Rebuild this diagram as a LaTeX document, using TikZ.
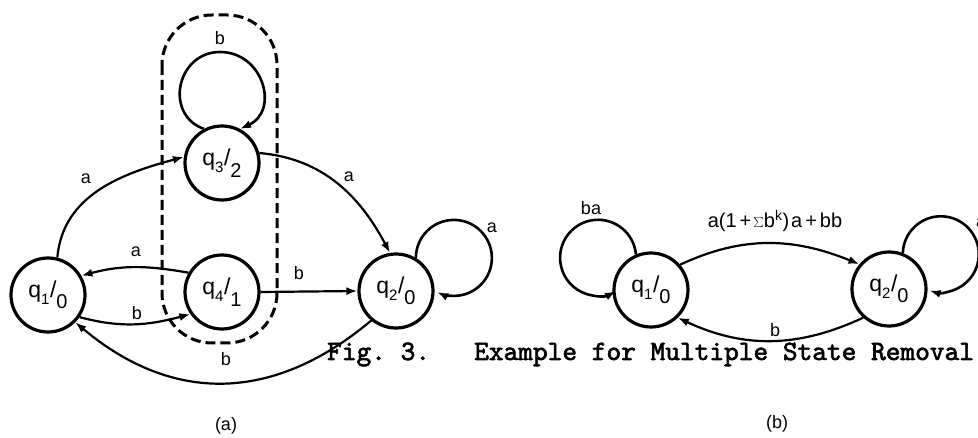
\documentclass[tikz,border=0pt]{standalone}
\usepackage{fontspec}
\setmainfont{Liberation Sans}
\newfontfamily\capfont{lmmono10-regular.otf}[FakeBold=2.2]
\usetikzlibrary{arrows.meta}
\newcommand{\qlab}[2]{q\raisebox{-0.3em}{\fontsize{15pt}{15pt}\selectfont #1}\kern0.5pt/\raisebox{-0.5em}{\fontsize{20pt}{20pt}\selectfont #2}}
\begin{document}
\begin{tikzpicture}[x=1pt,y=1pt,
  state/.style={draw, circle, line width=3.2pt, minimum size=74pt, inner sep=0pt, font=\fontsize{23pt}{23pt}\selectfont},
  edge/.style={line width=2.2pt, -{Latex[length=11pt,width=8pt]}},
  loopedge/.style={line width=2.6pt, -{Latex[length=11pt,width=8pt]}},
  lbl/.style={font=\fontsize{18pt}{18pt}\selectfont, inner sep=0pt},
  grpbox/.style={draw, dashed, dash pattern=on 10pt off 5pt, line width=3pt, rounded corners=50pt},
  capt/.style={font=\capfont\fontsize{28pt}{28pt}\selectfont\frenchspacing, inner sep=0pt, anchor=base west}]
\useasboundingbox (0,0) rectangle (978,-438);
% part (a)
\node[state] (q1) at (48,-295) {\qlab{1}{0}};
\node[state] (q3) at (222,-163) {\qlab{3}{2}};
\node[state] (q4) at (222,-292) {\qlab{4}{1}};
\node[state] (q2) at (396,-291) {\qlab{2}{0}};
\coordinate (t3) at (220,-52);
\draw[grpbox] (162,-15) rectangle (277,-343);
\draw[edge] (q1.76) to[out=85,in=195] (q3.171);
\draw[edge] (q3.15) to[out=-5,in=118] (q2.99);
\draw[edge] (q4.150) to[out=170,in=15] (q1.30);
\draw[edge] (q1.-35) to[out=-15,in=195] (q4.215);
\draw[edge] (q4.east) -- (q2.west);
\draw[edge] (q2.230) to[out=220,in=-40,looseness=1.1] (q1.-45);
\draw[loopedge] (q3.118) to[out=160,in=180,looseness=1.4] (t3) to[out=0,in=25,looseness=1.4] (q3.62);
\draw[loopedge] (q2.59) arc[start angle=180,end angle=-116,radius=38pt];
\node[lbl] (l1) at (86,-179) {a};
\node[lbl] (l2) at (349,-177) {a};
\node[lbl] (l3) at (136,-252) {a};
\node[lbl] (l4) at (137,-313) {b};
\node[lbl] (l5) at (299,-273) {b};
\node[lbl] (l6) at (226,-359) {b};
\node[lbl] (l7) at (220,-38) {b};
\node[lbl] (l8) at (492,-228) {a};
\node[lbl] (capa) at (226,-426) {(a)};
% part (b)
\node[state] (p1) at (651,-290) {\qlab{1}{0}};
\node[state] (p2) at (889,-289) {\qlab{2}{0}};
\draw[edge] (p1.41) to[out=25,in=158] (p2.140);
\draw[edge] (p2.228) to[out=205,in=-25] (p1.-46);
\draw[loopedge] (p1.113) arc[start angle=5,end angle=298,radius=38pt];
\draw[loopedge] (p2.69) arc[start angle=178,end angle=-107,radius=38pt];
\node[lbl] (m1) at (591,-208) {ba};
\node[lbl] (m2) at (775,-221) {\fontsize{20pt}{20pt}\selectfont a(1\kern3pt+\kern2pt$\sum$b\textsuperscript{k})\kern2pt a\kern3pt+\kern3pt bb};
\node[lbl] (m3) at (775,-330) {b};
\node[lbl] (m4) at (981,-223) {a};
\node[lbl] (capb) at (777,-424) {(b)};
% caption
\node[capt] (cap) at (327,-360) {Fig.\ 3.\ \ \ Example for Multiple State Removal};
\end{tikzpicture}
\end{document}
